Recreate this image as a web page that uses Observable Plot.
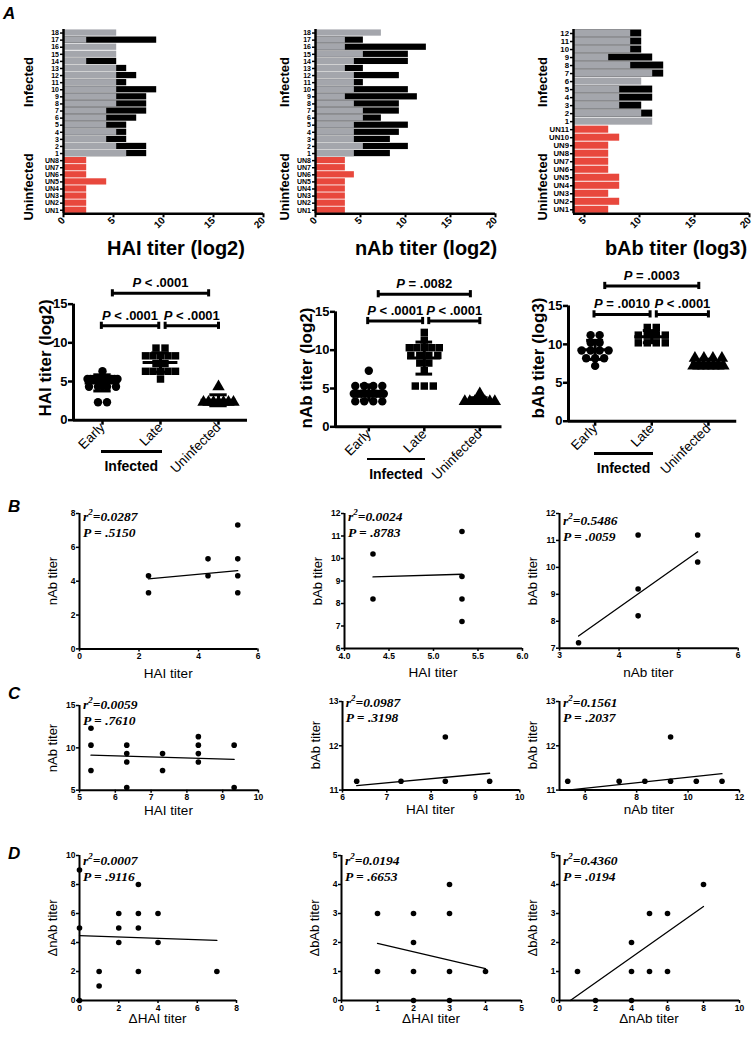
<!DOCTYPE html>
<html><head><meta charset="utf-8">
<script src="https://cdn.jsdelivr.net/npm/d3@7"></script>
<script src="https://cdn.jsdelivr.net/npm/@observablehq/plot@0.6"></script>
<style>
body{margin:0;background:#fff;}
#fig{position:relative;width:755px;height:1055px;overflow:hidden;background:#fff;font-family:"Liberation Sans",Arial,sans-serif;}
#fig svg{position:absolute;}
.lbl{position:absolute;white-space:nowrap;color:#000;line-height:1;}
.uline{position:absolute;background:#000;height:2.5px;}
</style></head><body><div id="fig"></div><script>
// ---------------- DATA ----------------
// Panel A – individual titers (subject 1 → N)
const haiIds = ["1","2","3","4","5","6","7","8","9","10","11","12","13","14","15","16","17","18"];
const haiEarly = [6.32,5.32,4.32,5.32,4.32,4.32,4.32,5.32,5.32,5.32,5.32,5.32,5.32,2.32,5.32,5.32,2.32,5.32];
const haiLate  = [8.32,8.32,6.32,6.32,6.32,7.32,8.32,8.32,8.32,9.32,6.32,7.32,6.32,5.32,null,null,9.32,null];
const haiUnIds = ["UN1","UN2","UN3","UN4","UN5","UN6","UN7","UN8"];
const haiUn    = [2.32,2.32,2.32,2.32,4.32,2.32,2.32,2.32];

const nabIds = haiIds;
const nabEarly = [4.32,5.32,4.32,4.32,4.32,5.32,5.32,4.32,3.32,4.32,4.32,4.32,3.32,4.32,5.32,3.32,3.32,7.32];
const nabLate  = [8.32,10.32,8.32,9.32,10.32,7.32,9.32,9.32,11.32,10.32,5.32,9.32,5.32,10.32,10.32,12.32,5.32,null];
const nabUnIds = ["UN1","UN2","UN3","UN4","UN5","UN6","UN7","UN8"];
const nabUn    = [3.32,3.32,3.32,3.32,3.32,4.32,3.32,3.32];

const babIds = ["1","2","3","4","5","6","7","8","9","10","11","12"];
const babEarly = [11.2,10.2,8.2,8.2,8.2,10.2,11.2,9.2,7.2,9.2,9.2,9.2];
const babLate  = [null,11.2,10.2,11.2,11.2,null,12.2,12.2,11.2,10.2,10.2,10.2];
const babUnIds = ["UN1","UN2","UN3","UN4","UN5","UN6","UN7","UN8","UN9","UN10","UN11"];
const babUn    = [7.2,8.2,7.2,8.2,8.2,7.2,7.2,7.2,7.2,8.2,7.2];

const groupCats = ["Early","Late","Uninfected"];
const haiP = ["P < .0001","P < .0001","P < .0001"];   // Early–Late, Late–Uninf, Early–Uninf
const nabP = ["P < .0001","P < .0001","P = .0082"];
const babP = ["P = .0010","P < .0001","P = .0003"];

// Panels B–D: correlations
const b1X = [2.32,2.32,4.32,4.32,5.32,5.32,5.32,5.32], b1Y = [4.32,3.32,5.32,4.32,7.32,5.32,4.32,3.32];
const b2X = [4.32,4.32,5.32,5.32,5.32,5.32],           b2Y = [10.2,8.2,11.2,9.2,8.2,7.2];
const b3X = [3.32,4.32,4.32,4.32,5.32,5.32],           b3Y = [7.2,11.2,9.2,8.2,11.2,10.2];
const c1X = [5.32,5.32,5.32,6.32,6.32,6.32,6.32,7.32,7.32,8.32,8.32,8.32,8.32,9.32,9.32];
const c1Y = [12.32,10.32,7.32,10.32,9.32,8.32,5.32,9.32,7.32,11.32,10.32,9.32,8.32,10.32,5.32];
const c2X = [6.32,7.32,8.32,8.32,9.32],                 c2Y = [11.2,11.2,12.2,11.2,11.2];
const c3X = [5.32,7.32,8.32,9.32,9.32,10.32,11.32],     c3Y = [11.2,11.2,11.2,12.2,11.2,11.2,11.2];
const d1X = [0,0,0,1,1,2,2,2,3,3,3,3,4,4,7],            d1Y = [9,5,0,2,1,6,5,4,8,6,5,2,6,4,2];
const d2X = [1,1,2,2,2,2,3,3,3,3,4],                    d2Y = [3,1,3,2,1,0,4,3,1,0,1];
const d3X = [1,2,4,4,4,5,5,6,6,8],                      d3Y = [1,0,2,1,0,3,1,3,1,4];
// fitted regression lines (endpoints)
const fitB1 = [[2.32,4.14],[5.32,4.62]], fitB2 = [[4.32,9.18],[5.32,9.3]], fitB3 = [[3.32,7.45],[5.32,10.58]];
const fitC1 = [[5.32,9.13],[9.32,8.63]], fitC2 = [[6.32,11.1],[9.32,11.38]], fitC3 = [[5.32,11.0],[11.32,11.37]];
const fitD1 = [[0,4.48],[7,4.14]], fitD2 = [[1,1.97],[4,1.1]], fitD3 = [[0.6,0],[8,3.24]];
const statsR2 = ["0.0287","0.0024","0.5486","0.0059","0.0987","0.1561","0.0007","0.0194","0.4360"];
const statsP  = [".5150",".8783",".0059",".7610",".3198",".2037",".9116",".6653",".0194"];

// ---------------- HELPERS ----------------
const fig = document.getElementById("fig");
const FONT = '"Liberation Sans", Arial, sans-serif';
const SERIF = '"Liberation Serif", "Times New Roman", serif';
const GRAY = "#a4a6ac", RED = "#e8483d";

function lin(v1,p1,v2,p2){ const k=(p2-p1)/(v2-v1); return v=>p1+(v-v1)*k; }

function plotAt(fx, fy, xDomain, yDomain, marks, pad=[14,14,40,44]) {
  const xl = fx(xDomain[0]), xr = fx(xDomain[1]), yb = fy(yDomain[0]), yt = fy(yDomain[1]);
  const svg = Plot.plot({
    width: xr-xl+pad[1]+pad[3], height: yb-yt+pad[0]+pad[2],
    marginTop: pad[0], marginRight: pad[1], marginBottom: pad[2], marginLeft: pad[3],
    x: {domain: xDomain}, y: {domain: yDomain},
    style: {background:"transparent", overflow:"visible", fontFamily: FONT, fontWeight:"bold", fontSize:"10px", color:"#000"},
    marks
  });
  svg.style.left = (xl-pad[3])+"px"; svg.style.top = (yt-pad[0])+"px";
  fig.appendChild(svg);
  return svg;
}

function label(text, x, y, o={}) {
  const d = document.createElement("div"); d.className="lbl"; d.textContent=text;
  Object.assign(d.style, {left:x+"px", top:y+"px", fontSize:(o.size||12)+"px", fontWeight:o.weight||"bold",
    fontStyle:o.style||"normal", fontFamily:o.family||FONT,
    transform:`translate(${o.ax??-50}%, ${o.ay??-50}%) rotate(${o.rotate||0}deg)`});
  if (o.lh) d.style.lineHeight = o.lh+"px";
  if (o.html) d.innerHTML = o.html;
  fig.appendChild(d); return d;
}

// ---------------- PANEL A: bar charts ----------------
function barPanel(ids, early, late, unIds, un, fx, xDomain, xTicks, topPx, botPx, fs) {
  const nU = unIds.length, N = ids.length + nU;
  const rowLabel = i => i < nU ? unIds[i] : ids[i-nU];
  const inf = ids.map((id,k)=>({i:nU+k, early:early[k], late:late[k]}));
  const uni = unIds.map((id,k)=>({i:k, v:un[k]}));
  const fy = lin(-0.5, botPx, N-0.5, topPx);
  const x0 = xDomain[0], h = 0.44;
  const svg = plotAt(fx, fy, xDomain, [-0.5, N-0.5], [
    Plot.rect(inf.filter(d=>d.late!=null), {x1:()=>x0, x2:"late", y1:d=>d.i-h, y2:d=>d.i+h, fill:"#000"}),
    Plot.rect(inf, {x1:()=>x0, x2:"early", y1:d=>d.i-h, y2:d=>d.i+h, fill:GRAY}),
    Plot.rect(uni, {x1:()=>x0, x2:"v", y1:d=>d.i-h, y2:d=>d.i+h, fill:RED}),
    Plot.ruleX([x0], {strokeWidth:2.5}),
    Plot.ruleY([-0.5], {strokeWidth:2.5}),
    Plot.axisY({ticks:d3.range(N), tickFormat:rowLabel, tickSize:3, tickPadding:1.5, fontSize:fs, strokeWidth:1.5, label:null}),
    Plot.axisX({ticks:xTicks, tickFormat:d=>String(d), tickSize:4, tickPadding:1, tickRotate:-45, fontSize:10, strokeWidth:2, label:null})
  ]);
}
barPanel(haiIds, haiEarly, haiLate, haiUnIds, haiUn, lin(0,62.5,20,262.5), [0,20], [0,5,10,15,20], 29, 213.3, 7);
barPanel(nabIds, nabEarly, nabLate, nabUnIds, nabUn, lin(0,314.8,20,494.8), [0,20], [0,5,10,15,20], 29, 213.3, 7);
barPanel(babIds, babEarly, babLate, babUnIds, babUn, lin(4,573,20,749), [4,20], [5,10,15,20], 29, 213.3, 7.8);

label("A", 3, 5, {size:17, style:"italic", ax:0, ay:0});
label("HAI titer (log2)", 176, 248, {size:20});
label("nAb titer (log2)", 426, 248, {size:20});
label("bAb titer (log3)", 676, 248, {size:20});
for (const x of [27.5, 284, 541.5]) {
  label("Infected", x, 82, {size:13, rotate:-90});
  label("Uninfected", x, 187, {size:13, rotate:-90});
}

// ---------------- PANEL A: dot plots ----------------
function jitter(vals, i, stepPx) {
  const out = [];
  for (const [v, arr] of d3.group(vals, d=>d)) {
    const n = arr.length, sp = n>1 ? Math.min(9, 30/(n-1)) : 0;
    arr.forEach((_,j)=>out.push({x: i + (j-(n-1)/2)*sp/stepPx, y: v}));
  }
  return out;
}
function dotPanel(groups, pLabels, fx, fy, xDomain, lowLvl, topLvl, yTitle, titleXY) {
  const stepPx = fx(1)-fx(0);
  const stats = groups.map((g,i)=>{ const m=d3.mean(g), s=d3.deviation(g); return {i, m, lo:m-s, hi:m+s}; });
  const syms = ["circle","square","triangle"];
  const br = [
    {x1:0-0.02, x2:1-0.03, y:lowLvl, t:pLabels[0]},
    {x1:1+0.08, x2:2, y:lowLvl, t:pLabels[1]},
    {x1:0+0.17, x2:2-0.17, y:topLvl, t:pLabels[2]}
  ];
  const capH = 3.6/ (fy(0)-fy(1));
  const marks = [
    ...groups.map((g,i)=>Plot.dot(jitter(g,i,stepPx), {x:"x", y:"y", symbol:()=>syms[i], r: i==2?4.6:4.2, fill:"#000", stroke:"none"})),
    Plot.ruleY(stats, {y:"m", x1:d=>d.i-0.3, x2:d=>d.i+0.3, strokeWidth:3}),
    Plot.ruleY(stats, {y:"lo", x1:d=>d.i-0.15, x2:d=>d.i+0.15, strokeWidth:3}),
    Plot.ruleY(stats, {y:"hi", x1:d=>d.i-0.15, x2:d=>d.i+0.15, strokeWidth:3}),
    Plot.ruleX(stats, {x:"i", y1:"lo", y2:"hi", strokeWidth:3}),
    Plot.ruleX([xDomain[0]], {y1:0, y2:15, strokeWidth:3}),
    Plot.ruleY([0], {x1:xDomain[0], x2:xDomain[1], strokeWidth:3}),
    Plot.ruleY(br, {y:"y", x1:"x1", x2:"x2", strokeWidth:3}),
    Plot.ruleX(br, {x:"x1", y1:d=>d.y-capH, y2:d=>d.y+capH, strokeWidth:3}),
    Plot.ruleX(br, {x:"x2", y1:d=>d.y-capH, y2:d=>d.y+capH, strokeWidth:3}),
    Plot.text(br, {x:d=>(d.x1+d.x2)/2, y:"y", text:"t", dy:-6, lineAnchor:"bottom", fontSize:13, fontWeight:"bold", fontFamily:FONT}),
    Plot.axisY({ticks:[0,5,10,15], tickFormat:d=>String(d), tickSize:5, tickPadding:1, fontSize:13, strokeWidth:2.5, label:null}),
    Plot.axisX({ticks:[0,1,2], tickFormat:i=>groupCats[i], tickSize:5, tickPadding:0, tickRotate:-45, fontSize:13.5, fontWeight:"normal", strokeWidth:2.5, label:null})
  ];
  const svg = plotAt(fx, fy, xDomain, [0,20], marks, [10,14,70,50]);
  d3.select(svg).selectAll("text").each(function(){
    const t = this.textContent;
    if (/^P [<=]/.test(t)) { const s=d3.select(this); s.text(""); s.append("tspan").attr("font-style","italic").text("P"); s.append("tspan").text(t.slice(1)); }
  });
  label(yTitle, titleXY[0], titleXY[1], {size:17, rotate:-90});
  // "Infected" group bar under Early/Late
  const u = document.createElement("div"); u.className="uline";
  const ux1 = fx(-0.02), ux2 = fx(1.03), uy = fy(0)+31;
  Object.assign(u.style, {left:ux1+"px", top:uy+"px", width:(ux2-ux1)+"px"}); fig.appendChild(u);
  label("Infected", (ux1+ux2)/2, uy+16, {size:14});
}
dotPanel([haiEarly, haiLate.filter(v=>v!=null), haiUn], haiP, lin(0,102,2,218), lin(0,419.3,15,303.3), [-0.5,2.5], 12.2, 16.4, "HAI titer (log2)", [45,357.5]);
dotPanel([nabEarly, nabLate.filter(v=>v!=null), nabUn], nabP, lin(0,368,2,479), lin(0,426.7,15,311.7), [-0.6,2.4], 13.8, 17.3, "nAb titer (log2)", [306,367.5]);
dotPanel([babEarly, babLate.filter(v=>v!=null), babUn], babP, lin(0,595,2,708.3), lin(0,421,15,305.7), [-0.47,2.5], 13.9, 17.6, "bAb titer (log3)", [537.5,357.5]);

// ---------------- PANELS B–D: scatter ----------------
function scatter(k, xs, ys, fit, fx, fy, xDomain, yDomain, xTicks, yTicks, xTitle, yTitle, xFmt, textDy, titleDy) {
  const pts = xs.map((x,i)=>({x, y:ys[i]}));
  plotAt(fx, fy, xDomain, yDomain, [
    Plot.ruleX([xDomain[0]], {strokeWidth:2}),
    Plot.ruleY([yDomain[0]], {strokeWidth:2}),
    Plot.axisX({ticks:xTicks, tickFormat:xFmt || (d=>String(d)), tickSize:3, tickPadding:1, fontSize:8.5, strokeWidth:1.5, label:null}),
    Plot.axisY({ticks:yTicks, tickFormat:d=>String(d), tickSize:3, tickPadding:1, fontSize:8.5, strokeWidth:1.5, label:null}),
    Plot.line(fit, {x:d=>d[0], y:d=>d[1], strokeWidth:1.3}),
    Plot.dot(pts, {x:"x", y:"y", r:2.8, fill:"#000", stroke:"none"})
  ], [10,10,30,30]);
  const ax = fx(xDomain[0]), ab = fy(yDomain[0]), at = fy(yDomain[1]), ar = fx(xDomain[1]);
  label(xTitle, (ax+ar)/2, ab+titleDy, {size:13.5, weight:"normal"});
  label(yTitle, ax-27, (ab+at)/2, {size:13, weight:"normal", rotate:-90});
  label("", ax+4, at+textDy, {ax:0, ay:0, size:13.5, weight:"bold", style:"italic", family:SERIF, lh:15.5,
    html:`r<sup style="font-size:9px;vertical-align:6px">2</sup>=${statsR2[k]}<br>P = ${statsP[k]}`});
}
const f1 = d3.format(".1f");
scatter(0, b1X, b1Y, fitB1, lin(0,79,6,257.5), lin(0,648.7,8,513.3), [0,6], [0,8], [0,2,4,6], [0,2,4,6,8], "HAI titer", "nAb titer", null, -8, 25);
scatter(1, b2X, b2Y, fitB2, lin(4,344,6,522), lin(6,648.3,12,513.3), [4,6], [6,12], [4,4.5,5,5.5,6], [6,7,8,9,10,11,12], "HAI titer", "bAb titer", f1, -8, 25);
scatter(2, b3X, b3Y, fitB3, lin(3,559,6,737.7), lin(7,648,12,513.3), [3,6], [7,12], [3,4,5,6], [7,8,9,10,11,12], "nAb titer", "bAb titer", null, -4, 25);
scatter(3, c1X, c1Y, fitC1, lin(5,79,10,258), lin(5,790,15,705.3), [5,10], [5,15], [5,6,7,8,9,10], [5,10,15], "HAI titer", "nAb titer", null, -12, 21);
scatter(4, c2X, c2Y, fitC2, lin(6,341.7,10,519), lin(11,789.3,13,700.7), [6,10], [11,13], [6,7,8,9,10], [11,12,13], "HAI titer", "bAb titer", null, -10, 21);
scatter(5, c3X, c3Y, fitC3, lin(5,559,12,739), lin(11,789.3,13,700.7), [5,12], [11,13], [6,8,10,12], [11,12,13], "nAb titer", "bAb titer", null, -10, 21);
scatter(6, d1X, d1Y, fitD1, lin(0,79,8,236), lin(0,1000,10,855), [0,8], [0,10], [0,2,4,6,8], [0,2,4,6,8,10], "ΔHAI titer", "ΔnAb titer", null, -6, 19);
scatter(7, d2X, d2Y, fitD2, lin(0,341,5,521), lin(0,1000,5,855), [0,5], [0,5], [0,1,2,3,4,5], [0,1,2,3,4,5], "ΔHAI titer", "ΔbAb titer", null, -6, 19);
scatter(8, d3X, d3Y, fitD3, lin(0,559,10,739), lin(0,1000,5,855), [0,10], [0,5], [0,2,4,6,8,10], [0,1,2,3,4,5], "ΔnAb titer", "ΔbAb titer", null, -6, 19);

label("B", 8, 498, {size:17, style:"italic", ax:0, ay:0});
label("C", 8, 685, {size:17, style:"italic", ax:0, ay:0});
label("D", 8, 845, {size:17, style:"italic", ax:0, ay:0});
</script></body></html>
